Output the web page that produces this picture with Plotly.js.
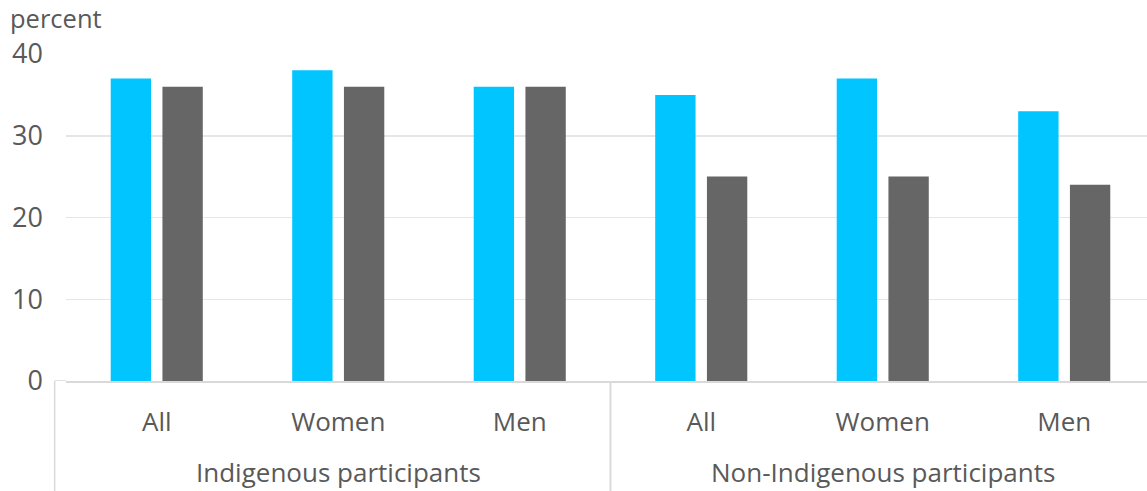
<!DOCTYPE html>
<html><head><meta charset="utf-8">
<script src="https://cdn.plot.ly/plotly-3.0.1.min.js"></script>
<style>body{margin:0;background:#fff}#c{width:1147px;height:491px}</style>
</head><body><div id="c"></div>
<script>
const groupNames = ["Indigenous participants", "Non-Indigenous participants"];
const groups = [0, 0, 0, 1, 1, 1];          // index into groupNames for each bar pair
const subcats = ["All","Women","Men","All","Women","Men"];
const seriesA = [37, 38, 36, 35, 37, 33];
const seriesB = [36, 36, 36, 25, 25, 24];
const yTicks = [0, 10, 20, 30, 40];
const yLabel = "percent";

const font = "'Open Sans', Lato, sans-serif";
const idx = subcats.map((_, i) => i);
const data = [
  {type:"bar", x:idx, y:seriesA, marker:{color:"#00c5ff"}, hoverinfo:"y", showlegend:false},
  {type:"bar", x:idx, y:seriesB, marker:{color:"#666666"}, hoverinfo:"y", showlegend:false}
];

const annotations = [{text:yLabel, xref:"paper", yref:"paper", x:-0.054, y:1.052, xanchor:"left", yanchor:"bottom",
                      showarrow:false, font:{size:25.5, color:"#595959", family:font}}];
const shapes = [{type:"line", xref:"paper", yref:"y", x0:-0.0105, x1:0, y0:0, y1:0,
                 line:{color:"#d9d9d9", width:1.5}}];
const divColor = "#d9d9d9";
groupNames.forEach((name, g) => {
  const members = idx.filter(i => groups[i] === g);
  const lo = Math.min(...members), hi = Math.max(...members);
  annotations.push({text:name, xref:"x", yref:"paper", x:(lo + hi) / 2, y:-0.278, xanchor:"center", yanchor:"middle",
                    showarrow:false, font:{size:26, color:"#595959", family:font}});
  shapes.push({type:"line", xref:"x", yref:"paper", x0:lo - 0.5, x1:lo - 0.5, y0:0, y1:-0.34,
               line:{color:divColor, width:1.5}});
  shapes.push({type:"line", xref:"x", yref:"paper", x0:hi + 0.5, x1:hi + 0.5, y0:0, y1:-0.34,
               line:{color:divColor, width:1.5}});
});
// left divider sits slightly left of the plot area, as in the reference
shapes[1].xref = "paper"; shapes[1].x0 = -0.0105; shapes[1].x1 = -0.0105;

const layout = {
  width:1147, height:491,
  margin:{l:66, r:0, t:54, b:110},
  paper_bgcolor:"#fff", plot_bgcolor:"#fff",
  barmode:"group", bargap:0.43, bargroupgap:0.22,
  font:{family:font, color:"#595959", size:26},
  xaxis:{range:[-0.5, 5.456], tickvals:idx, ticktext:subcats,
         showline:true, linecolor:"#d9d9d9", linewidth:1.5,
         tickfont:{size:26, color:"#595959", family:font}, ticklabelstandoff:17,
         ticks:"", showgrid:false, zeroline:false},
  yaxis:{range:[0,40], tickvals:yTicks, showgrid:true, gridcolor:"#e6e6e6", gridwidth:1.5,
         zeroline:false, showline:false, ticks:"", ticklabelstandoff:22,
         tickfont:{size:27, color:"#595959", family:font}},
  shapes:shapes,
  annotations:annotations
};
Plotly.newPlot("c", data, layout, {displayModeBar:false, staticPlot:true});
</script></body></html>
